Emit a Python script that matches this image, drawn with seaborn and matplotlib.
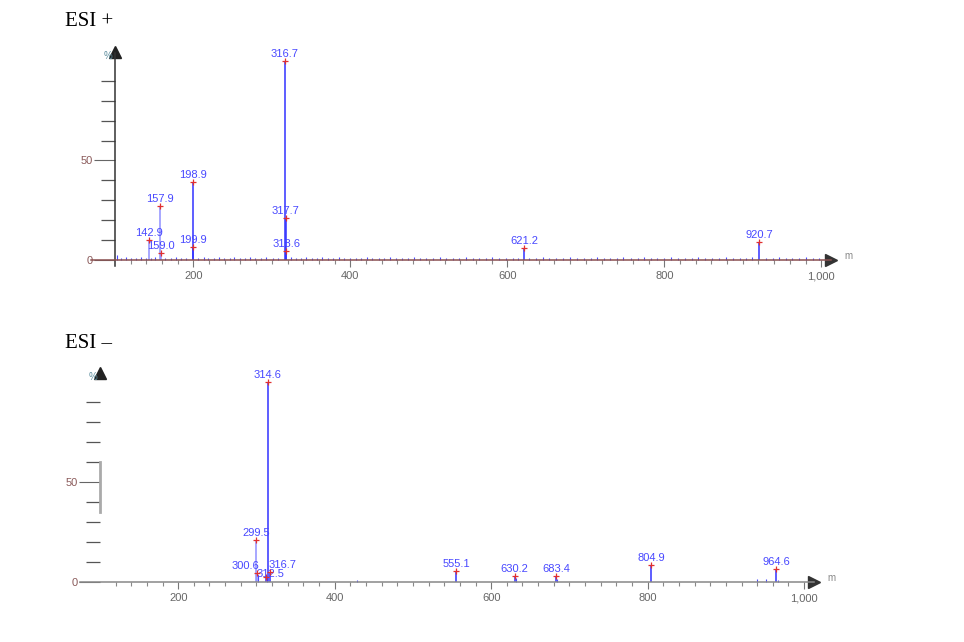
import matplotlib
matplotlib.use("Agg")
import matplotlib.pyplot as plt
import matplotlib.transforms as mtransforms
from matplotlib.ticker import FixedLocator, FuncFormatter
import pandas as pd
import seaborn as sns

# ESI+ labelled peaks (m/z, relative intensity %)
pos_mz = [142.9, 157.9, 159.0, 198.9, 199.9, 316.7, 317.7, 318.6, 621.2, 920.7]
pos_int = [10, 27, 3.5, 39, 6.5, 100, 21, 4.5, 6, 9]

# ESI+ unlabelled baseline peaks
pos_noise_mz = [103, 108, 114, 121, 127, 133, 139, 146, 151, 164, 171, 178, 184, 191,
                206, 213, 219, 226, 232, 239, 246, 252, 259, 266, 272, 279, 286, 293,
                301, 308, 324, 331, 337, 344, 351, 358, 364, 371, 378, 385, 392, 399,
                407, 414, 421, 428, 436, 443, 451, 458, 466, 473, 481, 489, 497, 505,
                514, 522, 531, 539, 547, 556, 564, 573, 581, 590, 598, 607, 614, 628,
                636, 645, 653, 662, 671, 680, 689, 698, 706, 714, 723, 731, 740, 748,
                757, 766, 774, 783, 791, 800, 809, 817, 826, 835, 843, 852, 861, 870,
                878, 887, 896, 904, 912, 929, 938, 946, 955, 963, 972, 980, 989, 997]
pos_noise_int = [2.5, 1, 1.5, 1, 1, 1.5, 1, 1, 1.5, 1, 1, 1.5, 1, 1,
                 1, 1.5, 1, 1, 1.5, 1, 1, 1.5, 1, 1, 1.5, 1, 1, 1.5,
                 1, 1, 1.5, 1, 1, 1.5, 1, 1, 1.5, 1, 1, 1.5, 1, 1,
                 1, 1, 1.5, 1, 1, 1, 1.5, 1, 1, 1, 1.5, 1, 1, 1,
                 1.5, 1, 1, 1, 1.5, 1, 1, 1, 1.5, 1, 1, 1, 1, 1,
                 1, 1.5, 1, 1, 1, 1.5, 1, 1, 1, 1.5, 1, 1, 1, 1.5,
                 1, 1, 1.5, 1, 1, 1, 1.5, 1, 1, 1, 1.5, 1, 1, 1,
                 1.5, 1, 1, 1, 1.5, 1, 1, 1.5, 1, 1, 1, 1.5, 1, 1]

# ESI- labelled peaks
neg_mz = [299.5, 300.6, 312.5, 314.6, 316.7, 555.1, 630.2, 683.4, 804.9, 964.6]
neg_int = [21, 4.5, 2.5, 100, 5, 5.5, 3, 3, 8.5, 6.5]

# ESI- unlabelled small peaks
neg_noise_mz = [302.0, 313.6, 428.0, 631.4, 684.6, 940.0, 951.0, 967.0]
neg_noise_int = [3.5, 3, 1, 2, 1.5, 1.5, 1.5, 1]

x_major = [200, 400, 600, 800, 1000]
y_major = [0, 50]
y_minor = [10, 20, 30, 40, 60, 70, 80, 90]

weak_peaks = {142.9, 157.9, 159.0, 299.5, 300.6}
# small nudges (points) for crowded labels
label_shift = {300.6: (-8, 1.5), 316.7: (9, 1.5), 312.5: (3, -1.5)}

sns.set_style("white")
plt.rcParams["font.family"] = ["Liberation Sans", "DejaVu Sans"]

fig = plt.figure(figsize=(9.64, 6.42), dpi=100)


def draw_panel(ax, mz, inten, noise_mz, noise_int, xmin, axis_color, base_color, shifts):
    ax.set_xlim(xmin, 1020)
    ax.set_ylim(-3, 105)

    # baseline noise
    ax.vlines(noise_mz, 0, noise_int, color="#4a4aff", lw=0.8)

    df = pd.DataFrame({"mz": mz, "intensity": inten})
    colors = ["#9090ff" if m in weak_peaks else "#3232ff" for m in mz]
    ax.vlines(df["mz"], 0, df["intensity"], colors=colors, lw=1.1)
    sns.scatterplot(data=df, x="mz", y="intensity", ax=ax, marker="+",
                    color="#e03030", s=14, linewidth=0.9, zorder=4, legend=False)
    for m, h in zip(mz, inten):
        dx, dy = shifts.get(m, (0, 1.5))
        ax.annotate(f"{m:.1f}", (m, h), xytext=(dx, dy), textcoords="offset points",
                    ha="center", va="bottom", fontsize=8, color="#4848ff")

    for s in ["top", "right"]:
        ax.spines[s].set_visible(False)
    ax.spines["left"].set_position(("data", 100))
    ax.spines["bottom"].set_position(("data", 0))
    ax.spines["left"].set_color(axis_color)
    ax.spines["bottom"].set_color(base_color)
    ax.spines["left"].set_linewidth(1.1)
    ax.spines["bottom"].set_linewidth(1.1)
    ax.spines["left"].set_bounds(-3, 104)
    ax.spines["bottom"].set_bounds(xmin, 1012)

    ax.xaxis.set_major_locator(FixedLocator(x_major))
    ax.xaxis.set_minor_locator(FixedLocator(list(range(120, 1001, 20))))
    ax.xaxis.set_major_formatter(FuncFormatter(lambda v, p: f"{v:,.0f}"))
    ax.yaxis.set_major_locator(FixedLocator(y_major))
    ax.yaxis.set_minor_locator(FixedLocator(y_minor))
    ax.tick_params(axis="x", which="major", direction="out", length=5, width=0.8,
                   color="#777777", labelsize=8, labelcolor="#666666", pad=8.7, bottom=True)
    ax.tick_params(axis="x", which="minor", direction="out", length=3, width=0.8,
                   color="#888888", bottom=True)
    ax.tick_params(axis="y", which="major", direction="out", length=15, width=0.8,
                   color="#666666", labelsize=8, labelcolor="#8a5a5a", pad=1, left=True)
    ax.tick_params(axis="y", which="minor", direction="out", length=10, width=0.9,
                   color="#555555", left=True)
    plt.setp(ax.get_xticklabels(), va="baseline")
    ax.set_xlabel("")
    ax.set_ylabel("")

    # arrow heads and axis names
    tr_y = mtransforms.blended_transform_factory(ax.transData, ax.transAxes)
    ax.plot([100], [0.995], marker="^", markersize=9, color="#222222",
            transform=tr_y, clip_on=False)
    ax.plot([1012], [0], marker=">", markersize=9, color="#333333", clip_on=False)
    ax.text(97, 0.975, "%", transform=tr_y, ha="right", va="center",
            fontsize=7, color="#5f8f9f")
    ax.text(1030, 2, "m", ha="left", va="center", fontsize=7, color="#888888",
            clip_on=False)


ax1 = fig.add_axes([0.0948, 0.5857, 0.7734, 0.3349])
draw_panel(ax1, pos_mz, pos_int, pos_noise_mz, pos_noise_int, 70, "#333333", "#8a5050", {})

ax2 = fig.add_axes([0.0834, 0.0841, 0.767, 0.3364])
draw_panel(ax2, neg_mz, neg_int, neg_noise_mz, neg_noise_int, 75, "#ffffff", "#888888",
           label_shift)
ax2.spines["left"].set_bounds(35, 60)
ax2.spines["left"].set_color("#aaaaaa")
ax2.spines["left"].set_linewidth(2)

fig.text(65 / 964, 1 - 22 / 642, "ESI +", family=["Liberation Serif", "DejaVu Serif"],
         fontsize=15, va="center", ha="left", color="black")
fig.text(65 / 964, 1 - 343 / 642, "ESI \u2013", family=["Liberation Serif", "DejaVu Serif"],
         fontsize=15, va="center", ha="left", color="black")

fig.savefig("out.png", dpi=100)
